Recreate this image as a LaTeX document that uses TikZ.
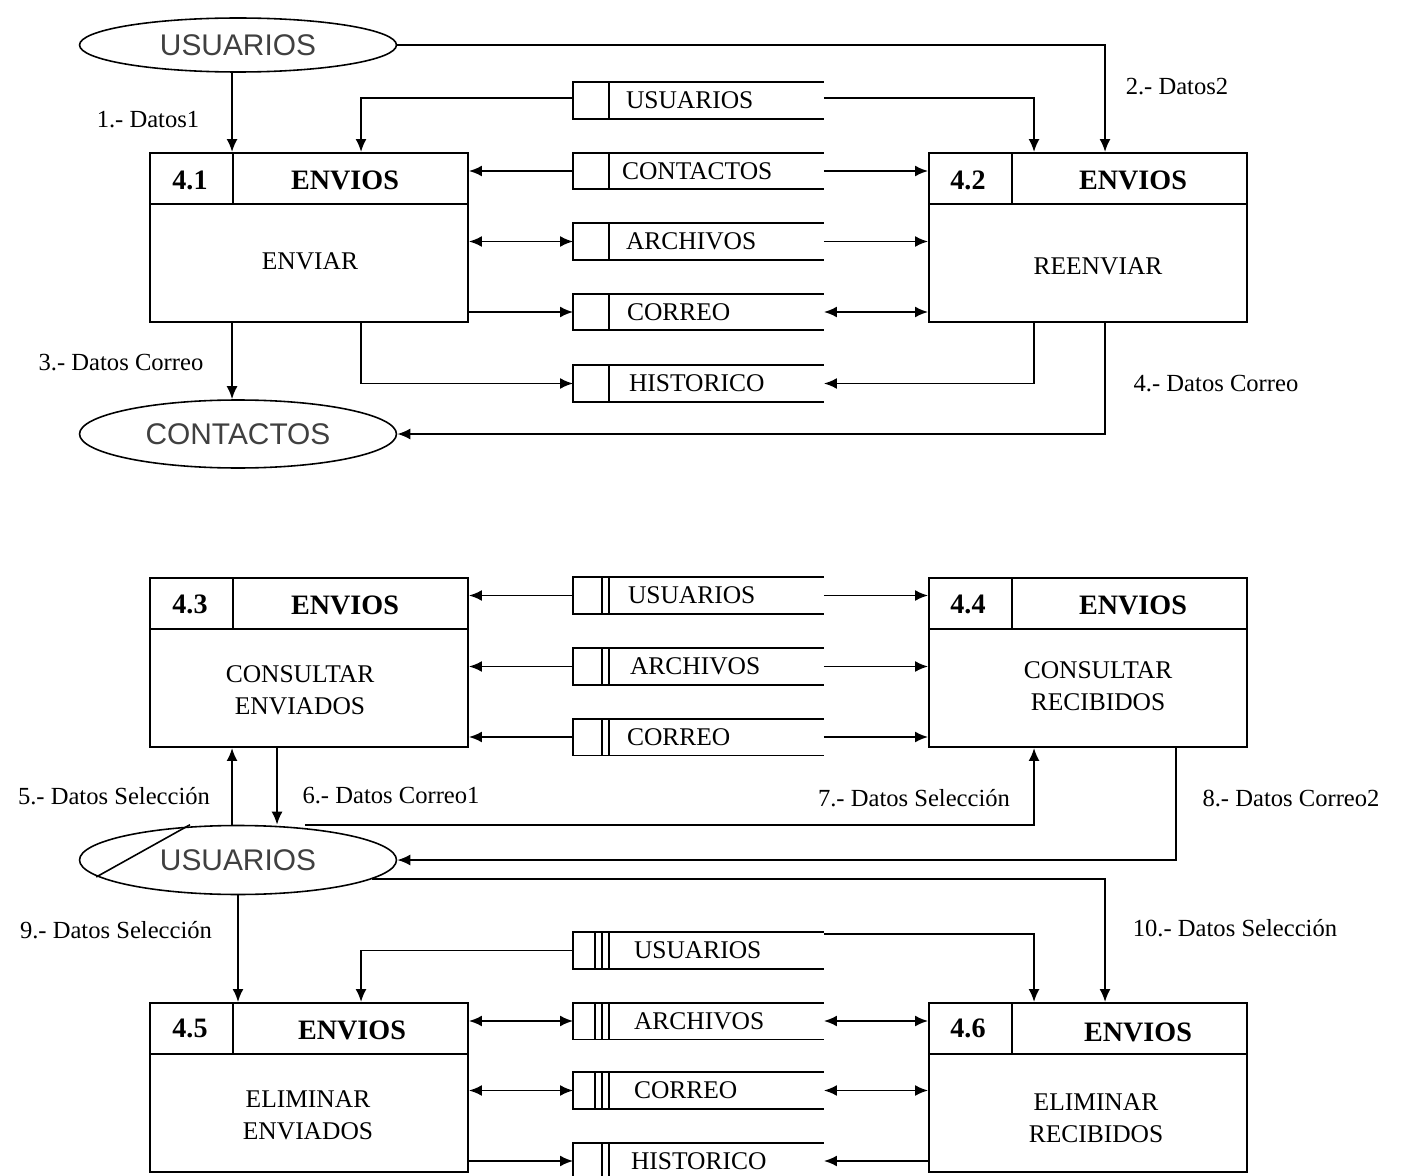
\documentclass[tikz,border=0pt]{standalone}
\usepackage{fontspec}
\setmainfont{Liberation Serif}
\newfontfamily\sansfuente{Liberation Sans}
\usetikzlibrary{shapes.geometric,arrows.meta,positioning}

\begin{document}
\begin{tikzpicture}[
		x=0.02cm, y=-0.02cm,
		line width=1.1pt,
		>={Latex[length=2.6mm,width=2.2mm]},
		proceso/.style={draw, rectangle, minimum width=6.36cm, minimum height=3.38cm, inner sep=0pt},
		almacen/.style={rectangle, minimum width=4.98cm, minimum height=0.7cm, inner sep=0pt},
		rotulo/.style={inner sep=0pt, font=\fontsize{14.5}{17}\selectfont},
		entidad/.style={ellipse, draw, line width=0.9pt, minimum width=6.34cm, inner sep=0pt, text=black!75, font=\sansfuente\fontsize{17}{20}\selectfont},
		flujo/.style={inner sep=0pt, font=\fontsize{14}{16}\selectfont},
		numero/.style={inner sep=0pt, font=\bfseries\fontsize{16}{18}\selectfont},
		tarea/.style={inner sep=0pt, align=center, font=\fontsize{14.5}{18}\selectfont}
	]
  \useasboundingbox (0,0) rectangle (1411,1176);

  % enviar / reenviar
  \node (uTop) [entidad, minimum height=1.08cm] at (238,45) {USUARIOS};
  \node (cTop) [entidad, minimum height=1.36cm] at (238,434) {CONTACTOS};
  \node (p41) [proceso] at (309,237.5) {};
  \node (p42) [proceso] at (1088,237.5) {};
  \draw ([yshift=-1.04cm]p41.north west) -- ([yshift=-1.04cm]p41.north east)
        ([xshift=1.68cm]p41.north west) -- ([xshift=1.68cm,yshift=-1.04cm]p41.north west);
  \draw ([yshift=-1.04cm]p42.north west) -- ([yshift=-1.04cm]p42.north east)
        ([xshift=1.68cm]p42.north west) -- ([xshift=1.68cm,yshift=-1.04cm]p42.north west);
  \node (n41) [numero] at (190,180) {4.1};
  \node (t41) [numero] at (345,180) {ENVIOS};
  \node (d41) [tarea] at (310,261) {ENVIAR};
  \node (n42) [numero] at (968,180) {4.2};
  \node (t42) [numero] at (1133,180) {ENVIOS};
  \node (d42) [tarea] at (1098,266) {REENVIAR};

  \node (sU1) [almacen] at (698.5,100.5) {};
  \node (lU1) [rotulo, right=1.04cm of sU1.west] {USUARIOS};
  \node (sC1) [almacen] at (698.5,171) {};
  \node (lC1) [rotulo, right=0.96cm of sC1.west] {CONTACTOS};
  \node (sA1) [almacen] at (698.5,241.5) {};
  \node (lA1) [rotulo, right=1.04cm of sA1.west] {ARCHIVOS};
  \node (sR1) [almacen] at (698.5,312) {};
  \node (lR1) [rotulo, right=1.06cm of sR1.west] {CORREO};
  \node (sH1) [almacen] at (698.5,383.5) {};
  \node (lH1) [rotulo, right=1.1cm of sH1.west] {HISTORICO};
  \draw (sU1.north east) -- (sU1.north west) -- (sU1.south west) -- (sU1.south east)
        ([xshift=0.72cm]sU1.north west) -- ([xshift=0.72cm]sU1.south west);
  \draw (sC1.north east) -- (sC1.north west) -- (sC1.south west) -- (sC1.south east)
        ([xshift=0.72cm]sC1.north west) -- ([xshift=0.72cm]sC1.south west);
  \draw (sA1.north east) -- (sA1.north west) -- (sA1.south west) -- (sA1.south east)
        ([xshift=0.72cm]sA1.north west) -- ([xshift=0.72cm]sA1.south west);
  \draw (sR1.north east) -- (sR1.north west) -- (sR1.south west) -- (sR1.south east)
        ([xshift=0.72cm]sR1.north west) -- ([xshift=0.72cm]sR1.south west);
  \draw (sH1.north east) -- (sH1.north west) -- (sH1.south west) -- (sH1.south east)
        ([xshift=0.72cm]sH1.north west) -- ([xshift=0.72cm]sH1.south west);

  \draw[->] ([xshift=1.66cm]p41.north west |- uTop.south) -- ([xshift=1.66cm]p41.north west);
  \draw[->] (uTop.east) -| ([xshift=3.54cm]p42.north west);
  \draw[->] ([xshift=1.66cm]p41.south west) -- ([xshift=1.66cm]p41.south west |- cTop.north);
  \draw[->] ([xshift=3.54cm]p42.south west) |- (cTop.east);
  \draw[->] ([yshift=0.05cm]sU1.west) -| ([xshift=4.24cm]p41.north west);
  \draw[->] ([yshift=0.05cm]sU1.east) -| ([xshift=2.12cm]p42.north west);
  \draw[->] (sC1.west) -- (sC1.west -| p41.east);
  \draw[->] (sC1.east) -- (sC1.east -| p42.west);
  \draw[<->] (sA1.west -| p41.east) -- (sA1.west);
  \draw[->] (sA1.east) -- (sA1.east -| p42.west);
  \draw[->] (sR1.west -| p41.east) -- (sR1.west);
  \draw[<->] (sR1.east) -- (sR1.east -| p42.west);
  \draw[->] ([xshift=4.24cm]p41.south west) |- (sH1.west);
  \draw[->] ([xshift=2.12cm]p42.south west) |- (sH1.east);

  \node (f1) [flujo] at (148,120) {1.- Datos1};
  \node (f2) [flujo] at (1177,87) {2.- Datos2};
  \node (f3) [flujo] at (121,363) {3.- Datos Correo};
  \node (f4) [flujo] at (1216,384) {4.- Datos Correo};

  % consultar
  \node (p43) [proceso] at (309,662.5) {};
  \node (p44) [proceso] at (1088,662.5) {};
  \draw ([yshift=-1.04cm]p43.north west) -- ([yshift=-1.04cm]p43.north east)
        ([xshift=1.68cm]p43.north west) -- ([xshift=1.68cm,yshift=-1.04cm]p43.north west);
  \draw ([yshift=-1.04cm]p44.north west) -- ([yshift=-1.04cm]p44.north east)
        ([xshift=1.68cm]p44.north west) -- ([xshift=1.68cm,yshift=-1.04cm]p44.north west);
  \node (n43) [numero] at (190,604) {4.3};
  \node (t43) [numero] at (345,605) {ENVIOS};
  \node (d43) [tarea] at (300,690) {CONSULTAR\\ENVIADOS};
  \node (n44) [numero] at (968,604) {4.4};
  \node (t44) [numero] at (1133,605) {ENVIOS};
  \node (d44) [tarea] at (1098,686) {CONSULTAR\\RECIBIDOS};

  \node (sU2) [almacen] at (698.5,595.5) {};
  \node (lU2) [rotulo, right=1.08cm of sU2.west] {USUARIOS};
  \node (sA2) [almacen] at (698.5,666.5) {};
  \node (lA2) [rotulo, right=1.12cm of sA2.west] {ARCHIVOS};
  \node (sR2) [almacen] at (698.5,737) {};
  \node (lR2) [rotulo, right=1.06cm of sR2.west] {CORREO};
  \draw (sU2.north east) -- (sU2.north west) -- (sU2.south west) -- (sU2.south east)
        ([xshift=0.58cm]sU2.north west) -- ([xshift=0.58cm]sU2.south west)
        ([xshift=0.72cm]sU2.north west) -- ([xshift=0.72cm]sU2.south west);
  \draw (sA2.north east) -- (sA2.north west) -- (sA2.south west) -- (sA2.south east)
        ([xshift=0.58cm]sA2.north west) -- ([xshift=0.58cm]sA2.south west)
        ([xshift=0.72cm]sA2.north west) -- ([xshift=0.72cm]sA2.south west);
  \draw (sR2.north east) -- (sR2.north west) -- (sR2.south west) -- (sR2.south east)
        ([xshift=0.58cm]sR2.north west) -- ([xshift=0.58cm]sR2.south west)
        ([xshift=0.72cm]sR2.north west) -- ([xshift=0.72cm]sR2.south west);

  \draw[->] (sU2.west) -- (sU2.west -| p43.east);
  \draw[->] (sU2.east) -- (sU2.east -| p44.west);
  \draw[->] (sA2.west) -- (sA2.west -| p43.east);
  \draw[->] (sA2.east) -- (sA2.east -| p44.west);
  \draw[->] (sR2.west) -- (sR2.west -| p43.east);
  \draw[->] (sR2.east) -- (sR2.east -| p44.west);

  % usuarios (seleccion)
  \node (uMid) [entidad, minimum height=1.38cm] at (238,860) {USUARIOS};
  \draw[line width=0.9pt] ([xshift=-0.96cm]uMid.north) -- ([shift={(0.35cm,-0.34cm)}]uMid.west);

  \draw[->] ([xshift=1.66cm]p43.south west |- uMid.north) -- ([xshift=1.66cm]p43.south west);
  \draw[->] ([xshift=2.56cm]p43.south west) -- ([xshift=2.56cm]p43.south west |- uMid.north);
  \draw[->] ([xshift=1.34cm]uMid.north) -| ([xshift=2.12cm]p44.south west);
  \draw[->] ([xshift=4.96cm]p44.south west) |- (uMid.east);

  \node (f5) [flujo] at (114,796) {5.- Datos Selección};
  \node (f6) [flujo] at (391,796) {6.- Datos Correo1};
  \node (f7) [flujo] at (914,798) {7.- Datos Selección};
  \node (f8) [flujo] at (1291,798) {8.- Datos Correo2};

  % eliminar
  \node (p45) [proceso] at (309,1087.5) {};
  \node (p46) [proceso] at (1088,1087.5) {};
  \draw ([yshift=-1.04cm]p45.north west) -- ([yshift=-1.04cm]p45.north east)
        ([xshift=1.68cm]p45.north west) -- ([xshift=1.68cm,yshift=-1.04cm]p45.north west);
  \draw ([yshift=-1.04cm]p46.north west) -- ([yshift=-1.04cm]p46.north east)
        ([xshift=1.68cm]p46.north west) -- ([xshift=1.68cm,yshift=-1.04cm]p46.north west);
  \node (n45) [numero] at (190,1028) {4.5};
  \node (t45) [numero] at (352,1030) {ENVIOS};
  \node (d45) [tarea] at (308,1115) {ELIMINAR\\ENVIADOS};
  \node (n46) [numero] at (968,1028) {4.6};
  \node (t46) [numero] at (1138,1032) {ENVIOS};
  \node (d46) [tarea] at (1096,1118) {ELIMINAR\\RECIBIDOS};

  \node (sU3) [almacen] at (698.5,950.5) {};
  \node (lU3) [rotulo, right=1.2cm of sU3.west] {USUARIOS};
  \node (sA3) [almacen] at (698.5,1021) {};
  \node (lA3) [rotulo, right=1.2cm of sA3.west] {ARCHIVOS};
  \node (sR3) [almacen] at (698.5,1090.5) {};
  \node (lR3) [rotulo, right=1.2cm of sR3.west] {CORREO};
  \node (sH3) [almacen] at (698.5,1161) {};
  \node (lH3) [rotulo, right=1.14cm of sH3.west] {HISTORICO};
  \draw (sU3.north east) -- (sU3.north west) -- (sU3.south west) -- (sU3.south east)
        ([xshift=0.44cm]sU3.north west) -- ([xshift=0.44cm]sU3.south west)
        ([xshift=0.58cm]sU3.north west) -- ([xshift=0.58cm]sU3.south west)
        ([xshift=0.72cm]sU3.north west) -- ([xshift=0.72cm]sU3.south west);
  \draw (sA3.north east) -- (sA3.north west) -- (sA3.south west) -- (sA3.south east)
        ([xshift=0.44cm]sA3.north west) -- ([xshift=0.44cm]sA3.south west)
        ([xshift=0.58cm]sA3.north west) -- ([xshift=0.58cm]sA3.south west)
        ([xshift=0.72cm]sA3.north west) -- ([xshift=0.72cm]sA3.south west);
  \draw (sR3.north east) -- (sR3.north west) -- (sR3.south west) -- (sR3.south east)
        ([xshift=0.44cm]sR3.north west) -- ([xshift=0.44cm]sR3.south west)
        ([xshift=0.58cm]sR3.north west) -- ([xshift=0.58cm]sR3.south west)
        ([xshift=0.72cm]sR3.north west) -- ([xshift=0.72cm]sR3.south west);
  \draw (sH3.north east) -- (sH3.north west) -- (sH3.south west) -- (sH3.south east)
        ([xshift=0.58cm]sH3.north west) -- ([xshift=0.58cm]sH3.south west)
        ([xshift=0.72cm]sH3.north west) -- ([xshift=0.72cm]sH3.south west);

  \draw[->] (uMid.south) -- (uMid.south |- p45.north);
  \draw[->] (uMid.-8) -| ([xshift=3.54cm]p46.north west);
  \draw[->] (sU3.west) -| ([xshift=4.24cm]p45.north west);
  \draw[->] ([yshift=-0.04cm]sU3.north east) -| ([xshift=2.12cm]p46.north west);
  \draw[<->] (sA3.west -| p45.east) -- (sA3.west);
  \draw[<->] (sA3.east) -- (sA3.east -| p46.west);
  \draw[<->] (sR3.west -| p45.east) -- (sR3.west);
  \draw[<->] (sR3.east) -- (sR3.east -| p46.west);
  \draw[->] (sH3.west -| p45.east) -- (sH3.west);
  \draw[->] (sH3.east -| p46.west) -- (sH3.east);

  \node (f9) [flujo] at (116,930) {9.- Datos Selección};
  \node (f10) [flujo] at (1235,928) {10.- Datos Selección};
\end{tikzpicture}
\end{document}
